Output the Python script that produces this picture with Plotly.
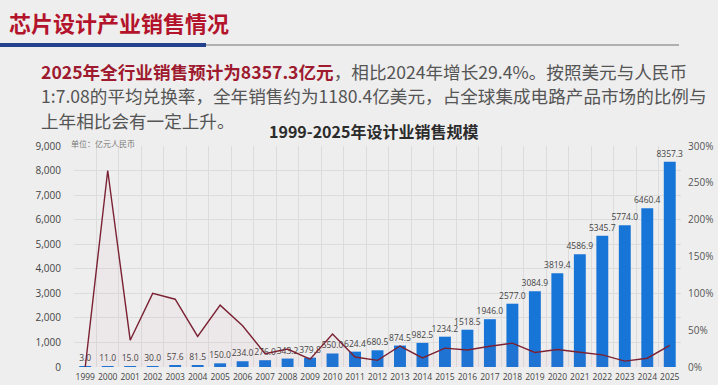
import plotly.graph_objects as go

years = [str(y) for y in range(1999, 2026)]
sales = [3.0, 11.0, 15.0, 30.0, 57.6, 81.5, 150.0, 234.0, 276.0, 343.2, 379.8, 550.0,
         624.4, 680.5, 874.5, 982.5, 1234.2, 1518.5, 1946.0, 2577.0, 3084.9, 3819.4,
         4586.9, 5345.7, 5774.0, 6460.4, 8357.3]
growth = [0, 266.7, 36.4, 100.0, 92.0, 41.5, 84.0, 56.0, 18.0, 24.3, 10.7, 44.8,
          13.5, 9.0, 28.5, 12.4, 25.6, 23.0, 28.2, 32.4, 19.7, 23.8, 20.1, 16.5,
          8.0, 11.9, 29.4]
left_ticks = list(range(0, 9001, 1000))
right_ticks = list(range(0, 301, 50))

W, H = 718, 385
L, R, T, B = 74, 681, 146, 367
BG = "#eeeeee"
CJK = "Noto Sans CJK SC"
NUM = "Open Sans, Noto Sans CJK SC"


def px(x):
    return (x - L) / (R - L)


def py(y):
    return (B - y) / (B - T)


fig = go.Figure()
fig.add_trace(go.Bar(
    x=years, y=sales, marker=dict(color="#1875d8", line=dict(width=0)),
    text=[f"{v:.1f}" for v in sales], textposition="outside", constraintext="none",
    textfont=dict(size=8.5, color="#444444", family=NUM),
    cliponaxis=False, name="sales"))
fig.add_trace(go.Scatter(
    x=years, y=growth, yaxis="y2", mode="lines",
    line=dict(color="#7a2233", width=1.4), fill="tozeroy",
    fillcolor="rgba(200,70,90,0.04)", name="growth"))

fig.update_layout(
    width=W, height=H, margin=dict(l=L, r=W - R, t=T, b=H - B),
    paper_bgcolor=BG, plot_bgcolor=BG, showlegend=False, bargap=0.47,
    font=dict(family=NUM, color="#555555"),
    xaxis=dict(type="category", tickson="boundaries", showgrid=True,
               gridcolor="#dcdcdc", gridwidth=1, ticks="", showline=False,
               tickangle=0, automargin=False,
               tickfont=dict(size=8.5, color="#444444"), ticklabelstandoff=3),
    yaxis=dict(range=[0, 9000], tickvals=left_ticks, automargin=False,
               ticktext=[f"{v:,}" for v in left_ticks], showgrid=True,
               gridcolor="#dcdcdc", zeroline=False, ticks="",
               tickfont=dict(size=10, color="#444444"), ticklabelstandoff=12),
    yaxis2=dict(range=[0, 300], overlaying="y", side="right", tickvals=right_ticks,
                ticktext=[f"{v}%" for v in right_ticks], showgrid=False,
                automargin=False, zeroline=False, ticks="",
                tickfont=dict(size=10, color="#555555"), ticklabelstandoff=6),
)

annotations = [
    dict(text="<b>芯片设计产业销售情况</b>", x=px(7), y=py(22), xanchor="left",
         yanchor="middle", font=dict(size=22, color="#b3132b", family=CJK)),
    dict(text="<b>2025年全行业销售预计为8357.3亿元</b><span style='color:#555555'>，相比2024年增长29.4%。按照美元与人民币</span>",
         x=px(39), y=py(71), xanchor="left", yanchor="middle",
         font=dict(size=17.6, color="#9e1a2e", family=CJK)),
    dict(text="1:7.08的平均兑换率，全年销售约为1180.4亿美元，占全球集成电路产品市场的比例与",
         x=px(39), y=py(96), xanchor="left", yanchor="middle",
         font=dict(size=17.6, color="#555555", family=CJK)),
    dict(text="上年相比会有一定上升。", x=px(39), y=py(121), xanchor="left",
         yanchor="middle", font=dict(size=17.6, color="#555555", family=CJK)),
    dict(text="<b>1999-2025年设计业销售规模</b>", x=px(373), y=py(131),
         xanchor="center", yanchor="middle",
         font=dict(size=16, color="#2b2b2b", family=CJK)),
    dict(text="单位：亿元人民币", x=px(69), y=py(143), xanchor="left",
         yanchor="middle", font=dict(size=8, color="#777777", family=CJK)),
]
for a in annotations:
    a.update(xref="paper", yref="paper", showarrow=False)
fig.update_layout(annotations=annotations)

fig.add_shape(type="line", xref="paper", yref="paper", x0=px(200), x1=px(679),
              y0=py(45), y1=py(45), line=dict(color="#9a9a9a", width=1.5))
fig.add_shape(type="rect", xref="paper", yref="paper", x0=px(0), x1=px(206),
              y0=py(43), y1=py(47), fillcolor="#23418f", line=dict(width=0))

fig.write_html("out.html")
